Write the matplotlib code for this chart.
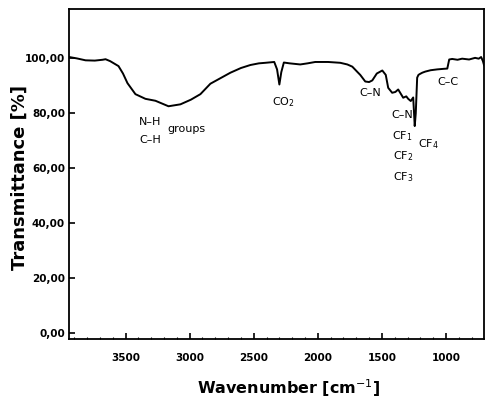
import numpy as np
import matplotlib
matplotlib.use('Agg')
import matplotlib.pyplot as plt
from matplotlib.ticker import MultipleLocator, FuncFormatter

# ------------------------- DATA -------------------------
# wavenumber (cm-1) and transmittance (%)
wavenumber = [3940, 3880, 3812, 3740, 3680, 3656, 3620, 3555, 3520, 3485,
              3423, 3345, 3267, 3165, 3072, 2990, 2916, 2838, 2760, 2682,
              2600, 2526, 2460, 2409, 2340, 2318, 2300, 2285, 2265, 2220,
              2137, 2080, 2020, 1920, 1825, 1770, 1731, 1690, 1669, 1630,
              1600, 1575, 1540, 1497, 1470, 1451, 1420, 1395, 1373, 1334,
              1310, 1295, 1275, 1256, 1244, 1236, 1225, 1215, 1205, 1185,
              1162, 1120, 1069, 1020, 990, 975, 952, 910, 874, 820,
              773, 745, 726, 712, 703]
transmittance = [100.5, 100.0, 99.3, 99.2, 99.5, 99.7, 99.0, 97.2, 94.5, 91.0,
                 87.0, 85.3, 84.6, 82.6, 83.3, 85.0, 87.0, 90.8, 92.8, 94.8,
                 96.5, 97.6, 98.2, 98.4, 98.7, 96.0, 90.5, 95.0, 98.5, 98.2,
                 97.8, 98.2, 98.7, 98.7, 98.4, 97.8, 97.0, 95.0, 94.0, 91.6,
                 91.4, 92.0, 94.5, 95.6, 94.0, 89.3, 87.5, 87.8, 88.7, 85.7,
                 86.2, 85.3, 84.5, 85.8, 75.4, 80.0, 93.0, 94.0, 94.3, 94.8,
                 95.2, 95.7, 96.0, 96.2, 96.3, 99.6, 99.8, 99.5, 99.9, 99.6,
                 100.2, 99.9, 100.5, 99.0, 97.5]

x_ticks = [3500, 3000, 2500, 2000, 1500, 1000]
y_ticks = [0, 20, 40, 60, 80, 100]

# band assignments: (text, wavenumber, transmittance)
bands = [
    ('N\u2013H', 3306, 76.7),
    ('C\u2013H', 3306, 70.2),
    ('groups', 3025, 74.2),
    ('CO$_2$', 2269, 84.0),
    ('C\u2013N', 1591, 87.6),
    ('C\u2013N', 1342, 79.3),
    ('CF$_1$', 1342, 71.6),
    ('CF$_2$', 1335, 64.4),
    ('CF$_3$', 1330, 56.7),
    ('CF$_4$', 1139, 68.7),
    ('C\u2013C', 983, 91.6),
]

# ------------------------- PLOT -------------------------


def comma_fmt(v, pos):
    return ('%.2f' % v).replace('.', ',')


fig = plt.figure(figsize=(4.87, 4.04), dpi=100)
ax = fig.add_axes([0.142, 0.161, 0.852, 0.817])

ax.plot(wavenumber, transmittance, color='black', lw=1.4)

ax.set_xlim(3940, 703)
ax.set_ylim(-2, 118)

ax.set_xticks(x_ticks)
ax.set_yticks(y_ticks)
ax.xaxis.set_minor_locator(MultipleLocator(100))
ax.yaxis.set_major_formatter(FuncFormatter(comma_fmt))
ax.tick_params(axis='both', which='major', direction='in', length=4, width=1.2,
               labelsize=7.5)
ax.tick_params(axis='x', which='minor', direction='in', length=1.5, width=0.8)
ax.tick_params(axis='x', pad=10)
ax.tick_params(axis='y', pad=3)
for lab in ax.get_xticklabels() + ax.get_yticklabels():
    lab.set_fontweight('bold')

for s in ax.spines.values():
    s.set_linewidth(1.3)

for txt, xw, yt in bands:
    ax.text(xw, yt, txt, ha='center', va='center', fontsize=8)

ax.set_xlabel('Wavenumber [cm$^{-1}$]', fontsize=11.5, fontweight='bold',
              va='center')
ax.set_ylabel('Transmittance [%]', fontsize=13, fontweight='bold',
              ha='center', va='center')
ax.xaxis.set_label_coords(0.53, -0.148)
ax.yaxis.set_label_coords(-0.12, 0.49)

fig.savefig('out.png', dpi=100)
